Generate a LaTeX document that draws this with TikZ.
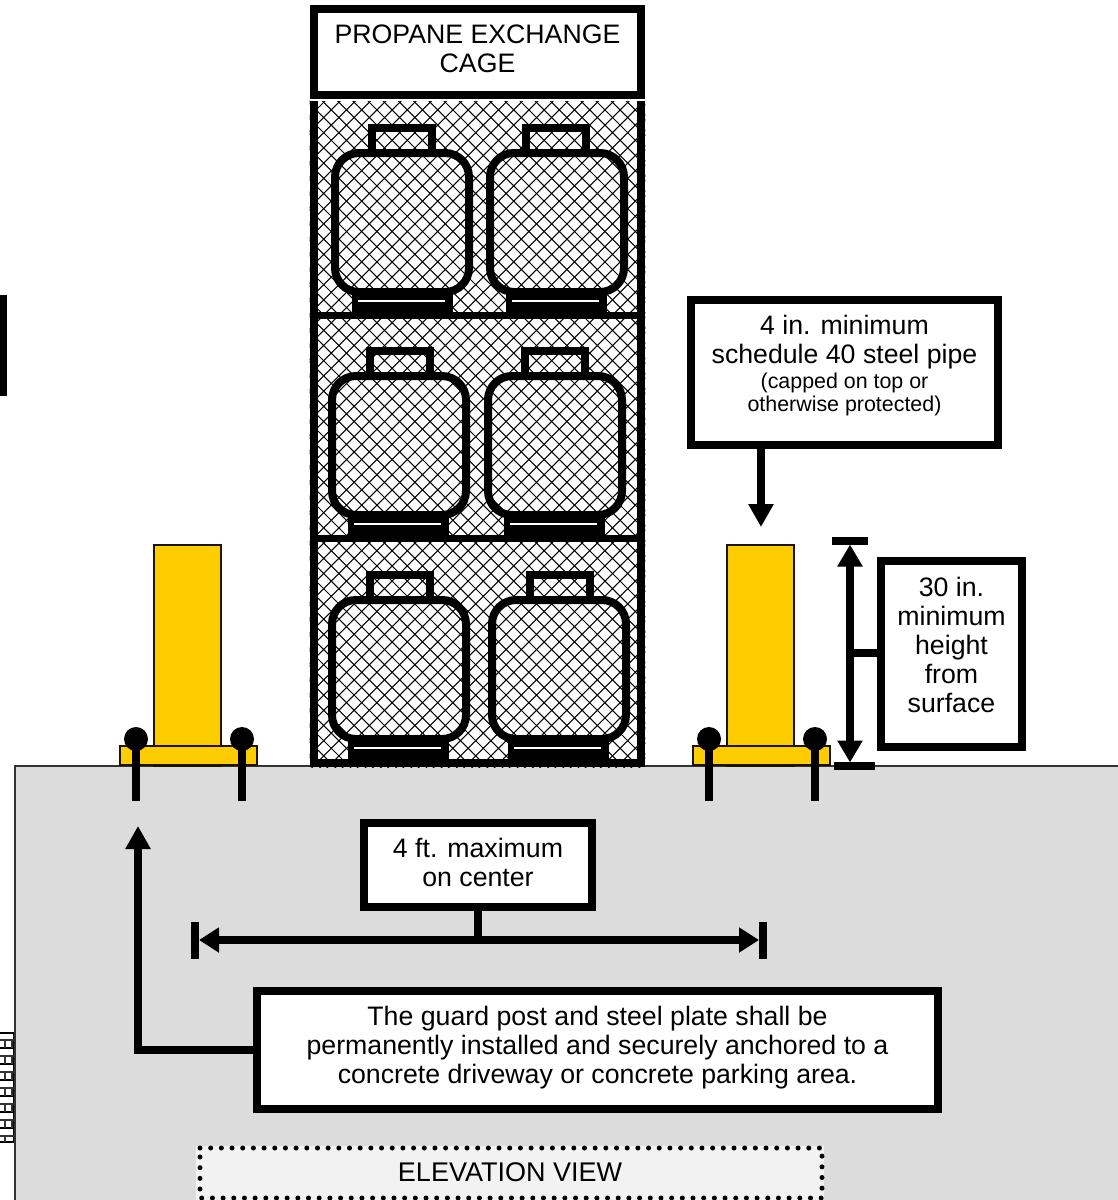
\documentclass[tikz,border=0pt]{standalone}
\usepackage{fontspec}
\setmainfont{Liberation Sans}
\usetikzlibrary{arrows.meta,calc}
\definecolor{postyellow}{HTML}{FFCC00}
\definecolor{postedge}{HTML}{1A1500}
\definecolor{slab}{HTML}{DCDCDC}
\definecolor{viewfill}{HTML}{F2F2F2}
\newcommand{\fbig}{\fontsize{26.7}{29}\selectfont}
\newcommand{\fsmall}{\fontsize{21.4}{23}\selectfont}
\tikzset{
  labelbox/.style={draw=black,fill=white,line width=8pt,inner sep=0pt,outer sep=0pt,align=center,font=\fbig,text=black,anchor=north west},
  thick line/.style={draw=black,line width=8pt},
  conn arrow/.style={thick line,-{Triangle[length=23pt,width=24pt]}},
  dim arrow/.style={thick line,{Triangle[length=22pt,width=24pt]}-{Triangle[length=22pt,width=24pt]}},
  hatchline/.style={draw=black,line width=1.05pt},
  cyl/.style={draw=black,line width=8pt},
  post/.style={draw=postedge,fill=postyellow,line width=2pt},
  bolthead/.style={circle,fill=black,minimum size=24pt,inner sep=0pt,outer sep=0pt},
}
% #1 left outer x, #2 top outer y of body, #3 handle left outer x, #4 base left outer x
\newcommand{\cylinder}[4]{%
  \draw[cyl] (#3+4,#2+4) -- (#3+4,#2-21) -- (#3+64,#2-21) -- (#3+64,#2+4);
  \draw[fill=black,draw=none] (#4,#2+140) rectangle (#4+101,#2+163);
  \draw[fill=white,draw=none] (#4+6,#2+151.2) rectangle (#4+93,#2+153.2);
  \draw[cyl] (#1+4,#2+4) [rounded corners=24pt] -- (#1+4,#2+143) -- (#1+138,#2+143) -- (#1+138,#2+4) -- cycle;
}
\begin{document}
\begin{tikzpicture}[x=1pt,y=-1pt]
\useasboundingbox (0,0) rectangle (1118,1200);
\fill[white] (0,0) rectangle (1118,1200);

% side fragments
\fill[black] (0,295) rectangle (7,396);
\draw[black,line width=2pt] (0,1032.5) -- (13.5,1032.5) -- (13.5,1142) -- (0,1142);
\foreach \yy in {1048,1064,1080,1096,1112,1128}{
  \draw[black,line width=2.4pt] (0,\yy) -- (13.5,\yy);
  \draw[black!80,line width=1.2pt] (0,\yy-8) -- (13.5,\yy-8);
  \draw[black!80,line width=1.2pt] (5,\yy-8) -- (5,\yy);
  \draw[black!80,line width=1.2pt] (12,\yy-8) -- (12,\yy);
}
\draw[black!80,line width=1.2pt] (0,1136) -- (13.5,1136);
\draw[black!80,line width=1.2pt] (5,1136) -- (5,1142);

% ground slab
\draw[fill=slab,draw=black!80,line width=1.4pt] (1130,766) -- (15,766) -- (15,1210) -- (1130,1210);

% cage hatch
\begin{scope}
  \clip (309.6,100) rectangle (645.4,767.5);
  \foreach \kk in {0,...,100}{
    \pgfmathsetmacro{\aa}{-781.8+15.2*\kk}
    \pgfmathsetmacro{\bb}{304.4+15.2*\kk}
    \draw[hatchline] (\aa,0) -- (\aa+800,800);
    \draw[hatchline] (\bb,0) -- (\bb-800,800);
  }
\end{scope}

% cage frame and shelves
\draw[thick line,line width=8pt] (314,101) -- (314,762.5) -- (641.3,762.5) -- (641.3,101);
\draw[thick line,line width=7pt] (314,315.5) -- (641,315.5);
\draw[thick line,line width=7pt] (314,538.5) -- (641,538.5);

% cylinders
\cylinder{331}{149}{368}{352}
\cylinder{486}{149}{522}{506}
\cylinder{328}{372}{366}{348}
\cylinder{484}{372}{521}{504}
\cylinder{328}{596}{366}{348}
\cylinder{488}{596}{526}{508}

% title box
\node[labelbox,minimum width=327pt,minimum height=86pt] (title) at (314,9) {PROPANE EXCHANGE\\CAGE\\[-23pt]\mbox{}};
\draw[white,line width=1.4pt] (310,100) -- (645,100);

% guard posts
\draw[post] (154,545) rectangle (221,766);
\draw[post] (120,745.5) rectangle (256.5,764.5);
\draw[post] (727,545) rectangle (794,766);
\draw[post] (693,745.5) rectangle (830,764.5);
\foreach \bx/\bn in {136/a,242/b,709/c,815/d}{
  \node[bolthead] (bolt\bn) at (\bx,739) {};
  \coordinate (stem\bn) at (\bx,801);
  \draw[thick line] (bolt\bn.center) -- (stem\bn);
}

% pipe label
\node[labelbox,minimum width=307pt,minimum height=145pt] (pipe) at (691,300) {4 in. minimum\\schedule 40 steel pipe\\[-4pt]{\fsmall (capped on top or}\\[-6pt]{\fsmall otherwise protected)}\\[-11pt]\mbox{}};
\coordinate (pipetip) at (761,527);
\draw[conn arrow] (pipe.south -| pipetip) -- (pipetip);

% height label
\node[labelbox,minimum width=141pt,minimum height=186pt] (height) at (881,561) {30 in.\\minimum\\height\\from\\surface\\[-11pt]\mbox{}};
\coordinate (dimtop) at (850,544.5);
\coordinate (dimbot) at (850,762.5);
\coordinate (barTL) at (832,541);
\coordinate (barTR) at (868,541);
\coordinate (barBL) at (834,766);
\coordinate (barBR) at (875,766);
\draw[thick line] (barTL) -- (barTR);
\draw[thick line] (barBL) -- (barBR);
\draw[dim arrow] (dimtop) -- (dimbot);
\coordinate (dimjoin) at (850,653);
\draw[thick line] (height.west |- dimjoin) -- (dimjoin);

% spacing label
\node[labelbox,minimum width=228pt,minimum height=84pt] (spacing) at (364,823) {4 ft. maximum\\on center\\[-23pt]\mbox{}};
\coordinate (spanL) at (199,940);
\coordinate (spanR) at (759,940);
\coordinate (capLt) at (195,922);
\coordinate (capLb) at (195,959);
\coordinate (capRt) at (763,922);
\coordinate (capRb) at (763,959);
\draw[thick line] (capLt) -- (capLb);
\draw[thick line] (capRt) -- (capRb);
\draw[dim arrow,{Triangle[length=20pt,width=24pt]}-{Triangle[length=20pt,width=24pt]}] (spanL) -- (spanR);
\coordinate (spanjoin) at (478,940);
\draw[thick line] (spacing.south -| spanjoin) -- (spanjoin);

% anchoring label
\node[labelbox,minimum width=681pt,minimum height=118pt] (anchor) at (257,991) {The guard post and steel plate shall be\\permanently installed and securely anchored to a\\concrete driveway or concrete parking area.\\[-19pt]\mbox{}};
\coordinate (anchortip) at (138,826);
\draw[conn arrow] (anchor.west |- 0,1050) -- (138,1050) -- (anchortip);

% view title
\node[draw=none,fill=viewfill,minimum width=628pt,minimum height=54pt,inner sep=0pt,outer sep=0pt,font=\fontsize{27}{29}\selectfont,anchor=north west,text=black] (view) at (196,1145.5) {ELEVATION VIEW};
\draw[black,line width=5pt,line cap=round,dash pattern=on 0pt off 10.68pt] (200,1148) -- (822,1148) -- (822,1198) -- (200,1198) -- cycle;
\end{tikzpicture}
\end{document}
